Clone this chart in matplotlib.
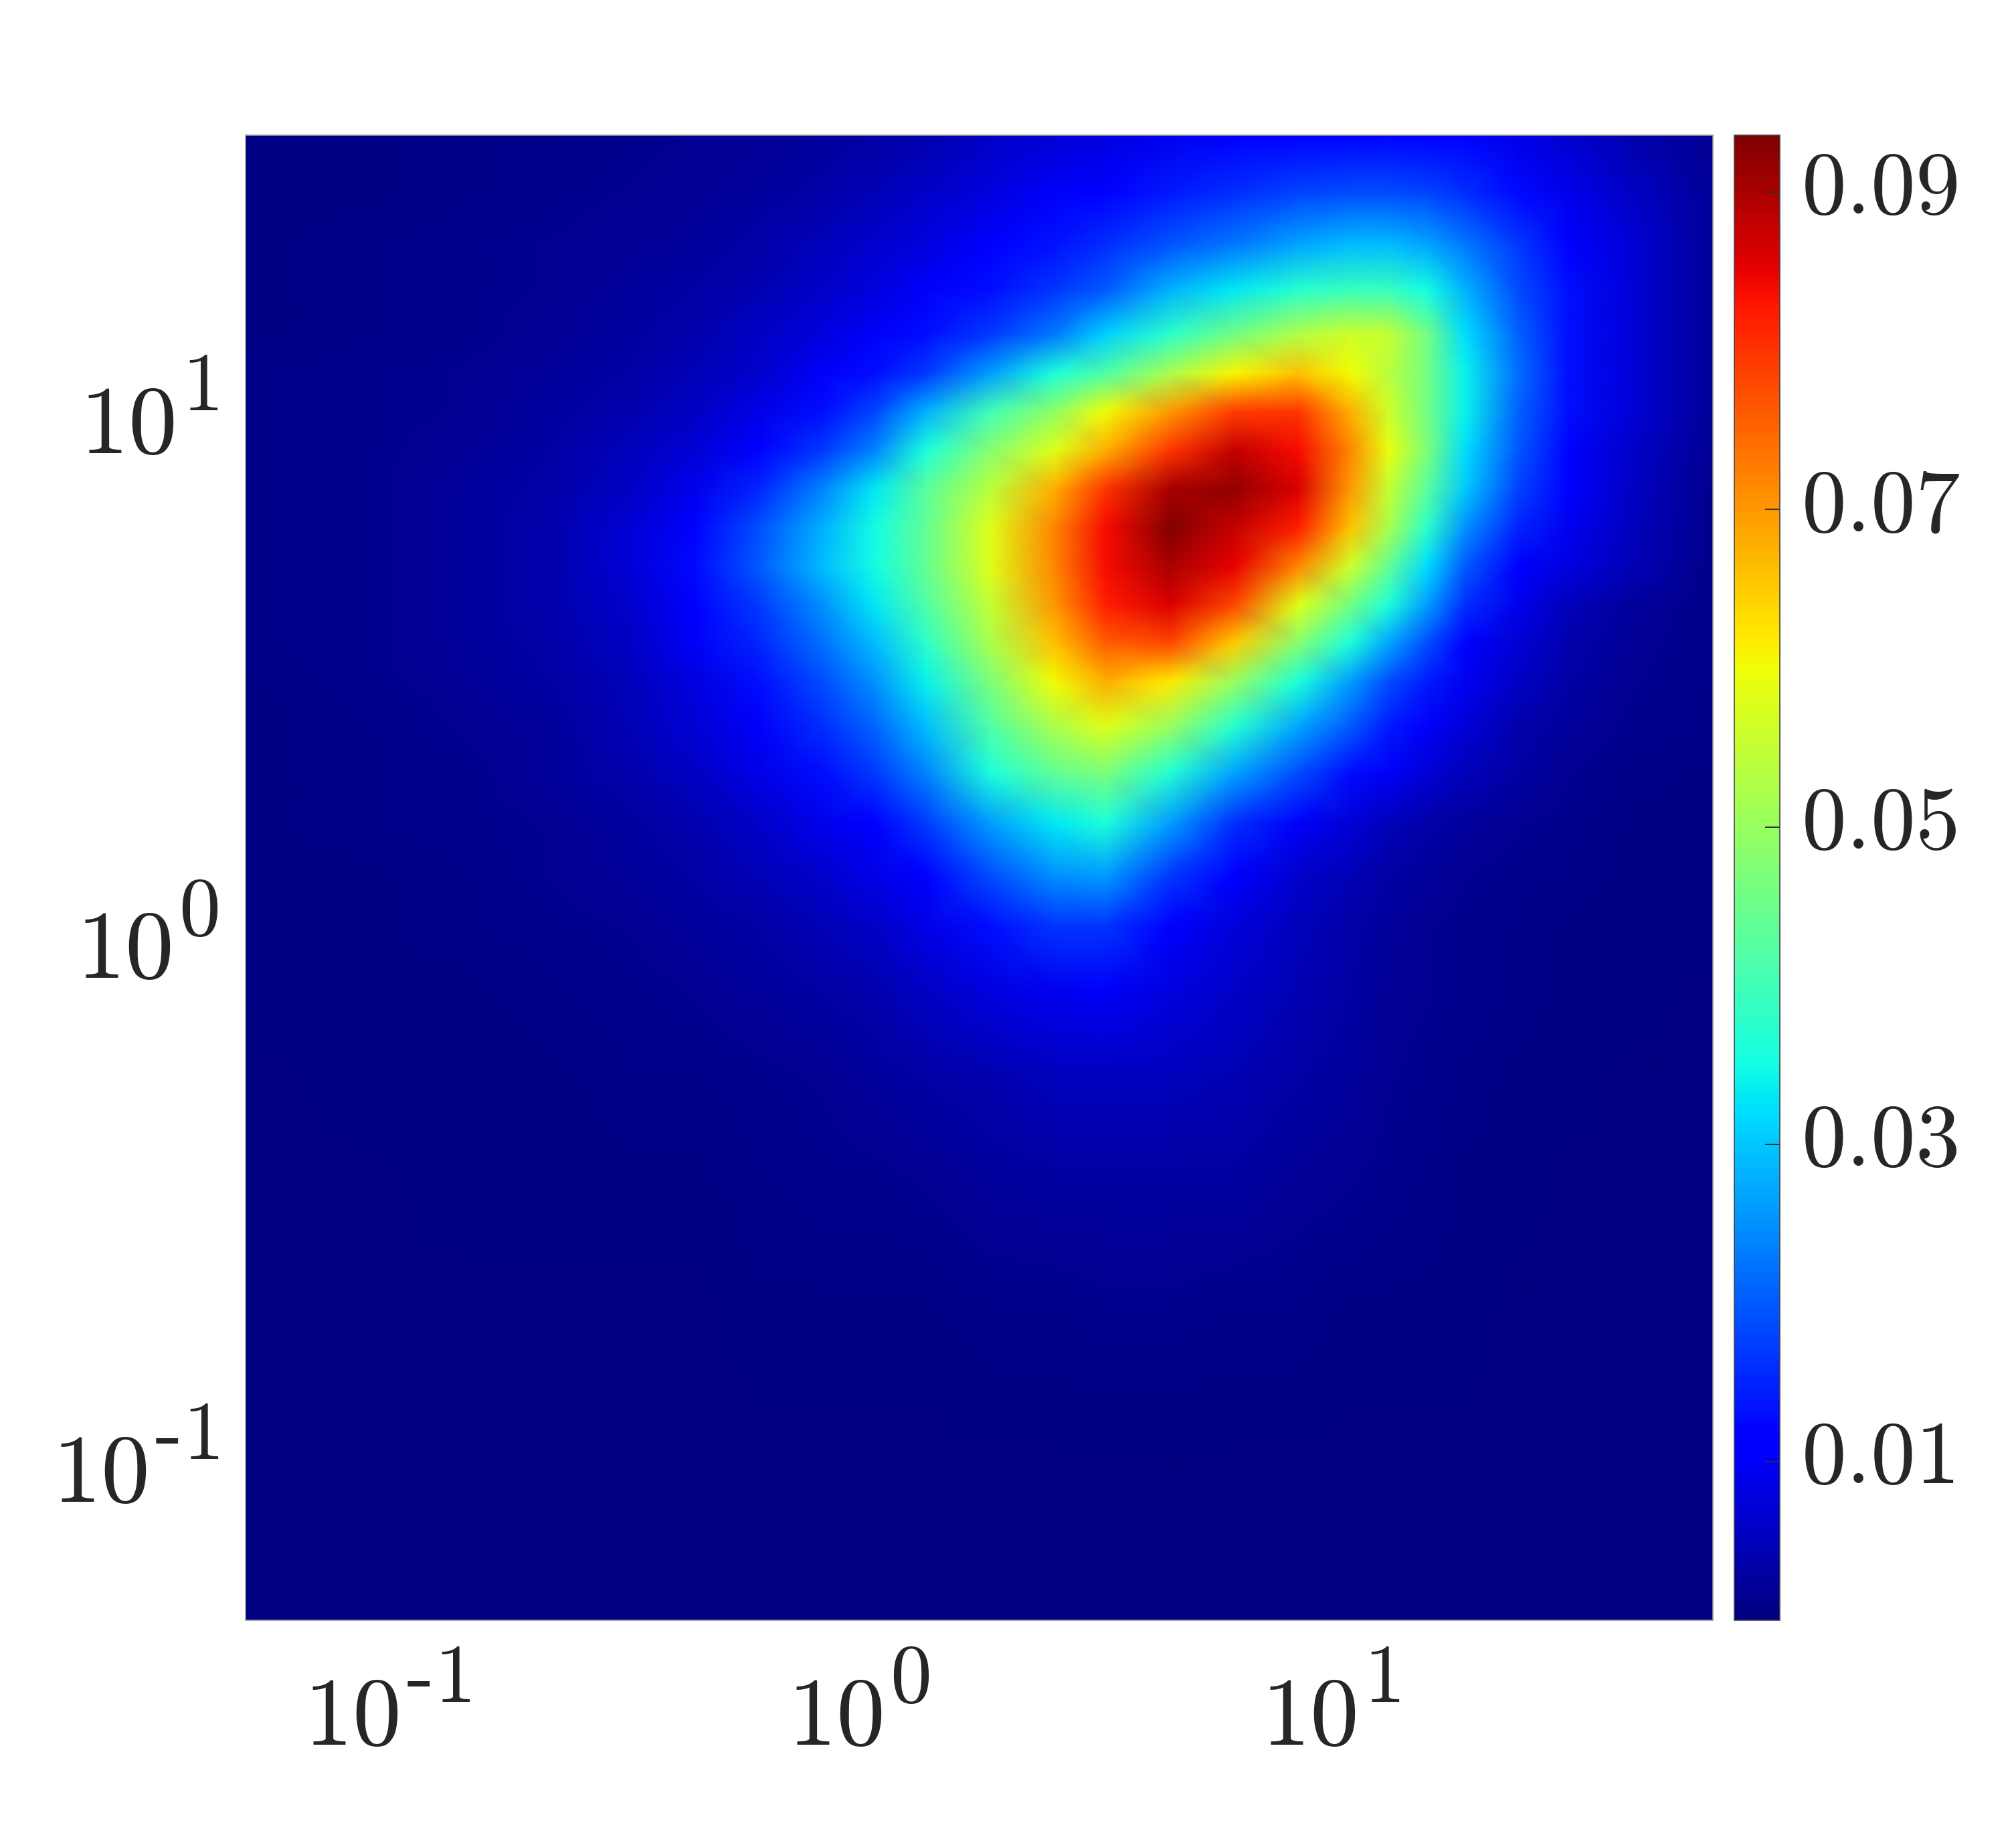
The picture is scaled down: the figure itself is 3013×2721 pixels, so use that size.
import numpy as np
import matplotlib
matplotlib.use("Agg")
import matplotlib.pyplot as plt
import matplotlib._mathtext as _mt
from matplotlib.ticker import FixedLocator, FixedFormatter, NullLocator
from matplotlib.transforms import ScaledTranslation

_mt.SHRINK_FACTOR = 0.85
_mt.ComputerModernFontConstants.sup1 = 0.52
_mt.FontConstantsBase.sup1 = 0.52
plt.rcParams['mathtext.fontset'] = 'cm'

# log10 positions of the table nodes
x_log = [-1.30, -1.057, -0.839, -0.649, -0.485, -0.349, -0.213, -0.076, 0.033, 0.142, 0.278, 0.414,
         0.523, 0.659, 0.796, 0.932, 1.041, 1.123, 1.204, 1.286, 1.395, 1.504, 1.640, 1.81]
y_log = [1.515, 1.404, 1.306, 1.221, 1.135, 1.061, 0.988, 0.914, 0.841, 0.767, 0.694, 0.620, 0.547,
         0.473, 0.387, 0.301, 0.203, 0.105, 0.007, -0.115, -0.287, -0.483, -0.728, -1.022, -1.316]

# density values (x 1e-3), one row per y_log entry
density = [
 [.5,.6,.8,1,1.2,1.5,2,2.5,3,4,5.5,7,8,9.5,10.5,11.5,12,12,11.5,10.5,8.5,6.5,4,1.5],
 [.5,.7,1,1.3,1.6,2,2.5,3.5,4.5,6,8,10,12,14,16,18,19,19,18,16,12.5,9,5.5,2],
 [.6,.8,1.1,1.5,2,2.5,3.5,5,6.5,8,10.5,13.5,16,19.5,23,27,29,29,27,23,17,12,7,2],
 [.7,.9,1.2,1.7,2.3,3,4.2,6,8,10,13,16.5,20,28,33,37,39,39,35,28,19,13,7,2],
 [.7,1,1.4,2,2.7,3.8,5.5,8,10,13,17,23,31,38,46,53,56,55,46,32,21,13,7,2],
 [.8,1.1,1.5,2.2,3.2,4.5,6.5,10,13,17,26,36,42,52,61,66,60,54,46,34,22,13,7,2],
 [.8,1.1,1.7,2.6,4,5.8,8.5,13,18,28,40,49,60,70,79,80,68,56,46,34,21,13,7,2],
 [.8,1.2,2,3,4.8,7,10.5,17,24,36,48,58,68,80,88,84,72,59,47,32,20,12,6,1.5],
 [.8,1.3,2.2,3.6,5.8,9,15,24,33,43,54,68,80,90,92,86,70,55,43,30,18,11,5.5,1.3],
 [.8,1.3,2.4,4,7,12,19,28,35,44,58,72,84,93,88,82,66,52,38,25,15,9.5,5,1.2],
 [.8,1.3,2.5,4,7,12.5,20,29,35,44,58,72,84,90,85,72,56,44,32,20,12,8,4.5,1],
 [.8,1.3,2.4,3.8,6.5,11.5,17,25,33,42,55,70,82,86,78,58,46,36,26,16,9,5,2.5,1],
 [.8,1.3,2.2,3.4,5.8,10,15,22,29,38,52,66,76,78,65,48,36,27,19,12,7,4,2,1],
 [.7,1.1,1.9,3,5,8,13,19,25,34,47,60,68,62,50,36,26,19,14,9.5,5.5,3,1.5,.8],
 [.7,1,1.6,2.5,4.5,7,10,16,21,29,42,52,58,50,37,27,20,14,10,7,4,2.5,1.2,.8],
 [.6,.9,1.4,2.2,3.8,5.5,8.5,13,17,24,36,44,47,37,27,19,13,10,7,5,3,1.8,1,.6],
 [.6,.8,1.2,1.8,2.8,4,6,9,12,17,26,33,36,26,16,10,7,5,3.5,2.5,1.8,1.2,.7,.5],
 [.5,.7,1,1.5,2.2,3,4.5,6.5,8.5,12,19,25,26,17,10.5,6.5,4.5,3,2.2,1.6,1.2,.8,.6,.5],
 [.5,.6,.9,1.2,1.7,2.3,3.2,4.5,6,8.5,13,16.5,16.5,11,7.5,5,3.5,2.4,1.8,1.3,1,.7,.5,.4],
 [.4,.5,.7,.9,1.2,1.6,2.2,3,4,5.5,8,9.5,10,8,6,4.2,3,2,1.5,1.1,.8,.6,.4,.3],
 [.3,.4,.5,.6,.8,1,1.4,1.8,2.4,3,4,4.8,5,5,4.2,3.2,2.4,1.7,1.2,.9,.6,.5,.3,.2],
 [.2,.3,.4,.4,.5,.6,.8,1.1,1.4,1.7,2.2,2.6,2.8,2.8,2.6,2.1,1.7,1.3,1,.7,.5,.3,.2,.2],
 [.1,.1,.2,.2,.3,.3,.4,.5,.6,.7,.9,1,1.1,1.1,1,.9,.7,.6,.5,.4,.3,.2,.1,.1],
 [0,0,.1,.1,.1,.1,.1,.2,.2,.2,.3,.3,.3,.3,.3,.3,.2,.2,.2,.1,.1,.1,0,0],
 [0,0,0,0,0,0,0,0,0,0,.1,.1,.1,.1,.1,.1,0,0,0,0,0,0,0,0],
]

axis_ticks = [0.1, 1, 10]
axis_labels = [r'$10^{\text{-}1}$', r'$10^{0}$', r'$10^{1}$']
cbar_ticks = [0.01, 0.03, 0.05, 0.07, 0.09]
cbar_labels = ['$0.01$', '$0.03$', '$0.05$', '$0.07$', '$0.09$']
clim = (0.0, 0.0936)

W, H = 3013, 2721
TXT = '#262626'
fig = plt.figure(figsize=(W / 100, H / 100), dpi=100, facecolor='white')
ax = fig.add_axes([367 / W, 1 - 2421 / H, (2560 - 367) / W, (2421 - 202) / H])
cax = fig.add_axes([2592 / W, 1 - 2421 / H, (2660 - 2592) / W, (2421 - 202) / H])

X, Y = np.meshgrid(10.0 ** np.array(x_log), 10.0 ** np.array(y_log))
Z = np.array(density) * 1e-3
mesh = ax.pcolormesh(X, Y, Z, cmap='jet', vmin=clim[0], vmax=clim[1], shading='gouraud')
ax.set_xscale('log')
ax.set_yscale('log')
ax.set_xlim(10.0 ** x_log[0], 10.0 ** x_log[-1])
ax.set_ylim(10.0 ** y_log[-1], 10.0 ** y_log[0])
for axis in (ax.xaxis, ax.yaxis):
    axis.set_major_locator(FixedLocator(axis_ticks))
    axis.set_major_formatter(FixedFormatter(axis_labels))
    axis.set_minor_locator(NullLocator())
ax.tick_params(axis='x', length=0, labelsize=105, labelcolor=TXT, pad=45)
ax.tick_params(axis='y', length=0, labelsize=105, labelcolor=TXT, pad=29)
for s in ax.spines.values():
    s.set_color('#999999')
    s.set_linewidth(1.2)

cb = fig.colorbar(mesh, cax=cax)
cb.set_ticks(cbar_ticks)
cb.set_ticklabels(cbar_labels)
cb.ax.tick_params(axis='y', direction='in', length=16, width=1.4, color='#3a2a2a',
                  labelsize=96, labelcolor=TXT, pad=23, right=True)
cb.outline.set_edgecolor('#444444')
cb.outline.set_linewidth(1.2)

up = ScaledTranslation(0, 19 / 100, fig.dpi_scale_trans)
for t in cb.ax.get_yticklabels():
    t.set_transform(t.get_transform() + up)
down = ScaledTranslation(0, -10 / 100, fig.dpi_scale_trans)
for t in ax.get_yticklabels():
    t.set_transform(t.get_transform() + down)

fig.savefig('out.png', dpi=100, facecolor='white')
